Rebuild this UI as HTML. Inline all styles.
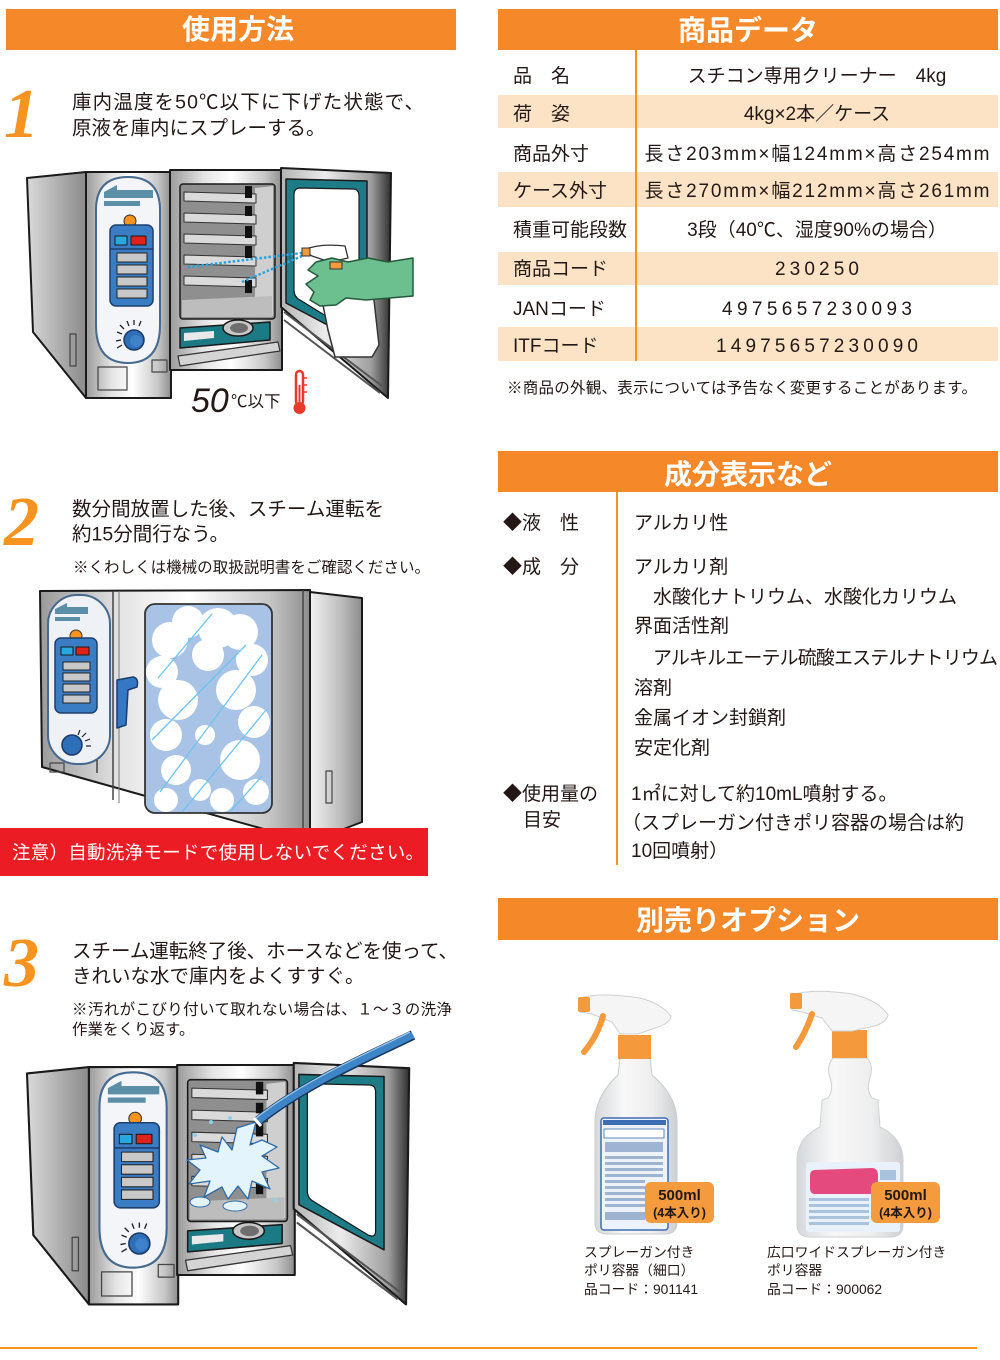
<!DOCTYPE html>
<html><head><meta charset="utf-8">
<style>
html,body{margin:0;padding:0;background:#fff;}
svg{display:block;}
text{font-family:"Liberation Sans","Noto Sans CJK JP",sans-serif;fill:#231815;}
.hd{fill:#fff;font-weight:bold;font-size:28px;}
.num{font-family:"Liberation Serif",serif;font-style:italic;font-weight:bold;font-size:70px;fill:#f7931e;}
</style></head><body>
<svg width="1000" height="1360" viewBox="0 0 1000 1360" xmlns="http://www.w3.org/2000/svg">
<defs>
 <linearGradient id="gSteel" x1="0" x2="1" y1="0" y2="0">
  <stop offset="0" stop-color="#9a9a9a"/><stop offset="0.3" stop-color="#e4e4e4"/><stop offset="0.55" stop-color="#ffffff"/><stop offset="0.85" stop-color="#c6c6c6"/><stop offset="1" stop-color="#8e8e8e"/>
 </linearGradient>
 <linearGradient id="gSide" x1="0" x2="1" y1="0" y2="0"><stop offset="0" stop-color="#dadada"/><stop offset="1" stop-color="#8a8a8a"/></linearGradient>
 <linearGradient id="gSide2" x1="0" x2="1" y1="0" y2="0"><stop offset="0" stop-color="#f2f2f2"/><stop offset="0.6" stop-color="#bdbdbd"/><stop offset="1" stop-color="#8a8a8a"/></linearGradient>
 <linearGradient id="gDoor" x1="0" x2="1" y1="0" y2="0"><stop offset="0" stop-color="#b4b4b4"/><stop offset="0.4" stop-color="#ececec"/><stop offset="0.82" stop-color="#9e9e9e"/><stop offset="1" stop-color="#2e2e2e"/></linearGradient>
 <linearGradient id="gBottle" x1="0" x2="1" y1="0" y2="0"><stop offset="0" stop-color="#d5d8db"/><stop offset="0.35" stop-color="#f8f8f8"/><stop offset="0.7" stop-color="#eeeeee"/><stop offset="1" stop-color="#cdd0d3"/></linearGradient>
 <clipPath id="win2"><rect x="145" y="604" width="127" height="209" rx="10"/></clipPath>
 <g id="ovenA" stroke-linejoin="round">
  <polygon points="27,178 86,172 86,398 33,332" fill="url(#gSide)" stroke="#1a1a1a" stroke-width="2"/>
  <rect x="70" y="334" width="6" height="32" fill="none" stroke="#444" stroke-width="1.2"/>
  <rect x="86" y="172" width="85" height="226" fill="url(#gSteel)" stroke="#1a1a1a" stroke-width="2"/>
  <path d="M96,210 Q96,177 128,177 Q160,177 160,210 L160,325 Q160,363 128,363 Q96,363 96,325 Z" fill="#f3f5f8" stroke="#45698f" stroke-width="2"/>
  <polygon points="104,192 117,185 117,190 153,190 153,198 104,198" fill="#5b8fa8"/>
  <polygon points="104,201 140,201 140,206 104,206" fill="#5b8fa8"/>
  <circle cx="130" cy="221" r="6" fill="#f7941d" stroke="#333" stroke-width="1"/>
  <rect x="110" y="225" width="43" height="81" rx="6" fill="#3b7dc4" stroke="#1d3f6f" stroke-width="1.5"/>
  <rect x="115" y="236" width="12" height="9" fill="#29a8e0" stroke="#1a1a1a" stroke-width="1"/>
  <rect x="131" y="236" width="15" height="9" fill="#e0201b" stroke="#1a1a1a" stroke-width="1"/>
  <line x1="110" y1="249" x2="153" y2="249" stroke="#1d3f6f" stroke-width="1.5"/>
  <rect x="117" y="253" width="30" height="9" fill="#c8c8c8" stroke="#222" stroke-width="1"/>
  <rect x="117" y="265" width="30" height="9" fill="#c8c8c8" stroke="#222" stroke-width="1"/>
  <rect x="117" y="277" width="30" height="9" fill="#c8c8c8" stroke="#222" stroke-width="1"/>
  <rect x="117" y="289" width="30" height="9" fill="#c8c8c8" stroke="#222" stroke-width="1"/>
  <g stroke="#222" stroke-width="1.3">
   <line x1="121" y1="340" x2="116" y2="341"/><line x1="122" y1="334" x2="117" y2="332"/><line x1="124" y1="329" x2="120" y2="325"/><line x1="129" y1="326" x2="127" y2="321"/><line x1="134" y1="325" x2="134" y2="320"/><line x1="139" y1="326" x2="141" y2="321"/><line x1="122" y1="345" x2="117" y2="348"/>
  </g>
  <circle cx="134" cy="340" r="10" fill="#2f6fb8" stroke="#1a3a66" stroke-width="1.5"/>
  <circle cx="136" cy="341" r="6" fill="#3f82cc"/>
  <rect x="98" y="367" width="29" height="23" fill="none" stroke="#444" stroke-width="1.2"/>
  <rect x="152" y="360" width="15" height="12" fill="none" stroke="#444" stroke-width="1.2"/>
  <rect x="170" y="170" width="112" height="200" fill="url(#gSteel)" stroke="#1a1a1a" stroke-width="2"/>
  <rect x="180" y="184" width="95" height="135" rx="3" fill="#8f8f8f" stroke="#1a1a1a" stroke-width="1.5"/>
  <polygon points="255,188 273,186 273,316 255,312" fill="#cfcfcf"/>
  <polygon points="182,300 272,296 272,317 182,317" fill="#bdbdbd"/>
  <g stroke="#333" stroke-width="1">
   <polygon points="184,192 256,194 256,203 184,201" fill="#dadada"/>
   <polygon points="184,213 256,215 256,224 184,222" fill="#dadada"/>
   <polygon points="184,234 256,236 256,245 184,243" fill="#dadada"/>
   <polygon points="184,255 256,257 256,266 184,264" fill="#dadada"/>
   <polygon points="184,276 256,278 256,287 184,285" fill="#dadada"/>
  </g>
  <rect x="245" y="186" width="7" height="12" fill="#111"/>
  <rect x="245" y="206" width="7" height="10" fill="#111"/>
  <rect x="245" y="226" width="7" height="12" fill="#111"/>
  <rect x="245" y="246" width="7" height="12" fill="#111"/>
  <rect x="245" y="280" width="7" height="13" fill="#111"/>
  <polygon points="180,328 270,322 270,340 180,348" fill="#1c7a85" stroke="#1a1a1a" stroke-width="1.5"/>
  <polygon points="184,333 214,331 214,338 184,341" fill="#e9e9e9"/>
  <ellipse cx="238" cy="328" rx="15" ry="8" fill="#c8c8c8" stroke="#1a1a1a" stroke-width="1.5"/>
  <ellipse cx="239" cy="328" rx="9" ry="5" fill="#6e6e6e"/>
  <polygon points="178,356 278,342 280,351 180,366" fill="#d4d4d4" stroke="#333" stroke-width="1.2"/>
  <polygon points="281,168 391,173 388,398 281,307" fill="url(#gDoor)" stroke="#1a1a1a" stroke-width="2"/>
  <polygon points="286,179 367,181 367,346 286,303" fill="#1e7c88" stroke="#1a1a1a" stroke-width="1.5"/>
  <path d="M300,188 L353,189 Q359,189 359,196 L359,328 Q359,335 352,332 L300,300 Q294,297 294,290 L294,195 Q294,188 300,188 Z" fill="#ffffff" stroke="#1a1a1a" stroke-width="1.2"/>
  <line x1="284" y1="312" x2="382" y2="386" stroke="#555" stroke-width="2"/>
  <line x1="284" y1="320" x2="380" y2="393" stroke="#555" stroke-width="2"/>
 </g>
</defs>

<!-- ===== Headers ===== -->
<rect x="6" y="9" width="450" height="41" fill="#f5892a"/>
<text class="hd" x="238" y="39" text-anchor="middle">使用方法</text>
<rect x="498" y="9" width="500" height="41" fill="#f5892a"/>
<text class="hd" x="748" y="40" text-anchor="middle">商品データ</text>
<rect x="498" y="451" width="500" height="41" fill="#f5892a"/>
<text class="hd" x="748" y="484" text-anchor="middle">成分表示など</text>
<rect x="498" y="898" width="500" height="42" fill="#f5892a"/>
<text class="hd" x="748" y="930" text-anchor="middle">別売りオプション</text>

<!-- ===== Step 1 ===== -->
<text class="num" x="4" y="137">1</text>
<text x="72" y="108.4" font-size="19.5" textLength="352" lengthAdjust="spacing">庫内温度を50℃以下に下げた状態で、</text>
<text x="72" y="134.4" font-size="19.5">原液を庫内にスプレーする。</text>

<use href="#ovenA"/>
<!-- spray -->
<line x1="188" y1="267" x2="302" y2="253" stroke="#29a3e0" stroke-width="2.5" stroke-dasharray="2.5 2"/>
<line x1="242" y1="282" x2="302" y2="256" stroke="#29a3e0" stroke-width="2.5" stroke-dasharray="2.5 2"/>
<!-- bottle + hand -->
<polygon points="332,266 352,268 374,300 379,345 372,357 335,357 328,330 322,300" fill="#fff" stroke="#333" stroke-width="1.5" stroke-linejoin="round"/>
<path d="M303,250 Q320,243 345,246 L348,258 L330,262 L312,256 Z" fill="#fff" stroke="#333" stroke-width="1.3"/>
<rect x="302" y="248" width="8" height="8" fill="#f39a3c" stroke="#333" stroke-width="1"/>
<polygon points="413,258 388,262 368,258 348,262 332,258 316,262 308,270 318,276 306,284 314,292 310,300 320,306 336,305 346,298 366,300 413,296" fill="#6cbf8f" stroke="#245a3c" stroke-width="1.5" stroke-linejoin="round"/>
<rect x="330" y="262" width="12" height="7" fill="#f39a3c" stroke="#333" stroke-width="1"/>
<!-- 50C -->
<text x="191" y="412" font-size="34" font-style="italic" fill="#333" style="font-family:'Liberation Sans',sans-serif">50</text>
<text x="231" y="407" font-size="16.5">℃以下</text>
<rect x="296" y="371" width="7" height="34" rx="3.5" fill="#fff" stroke="#e83a2b" stroke-width="2.5"/>
<rect x="298.5" y="385" width="2" height="20" fill="#e83a2b"/>
<circle cx="299.5" cy="408" r="6" fill="#e83a2b"/>
<g stroke="#e83a2b" stroke-width="1.5"><line x1="303" y1="378" x2="307" y2="378"/><line x1="303" y1="385" x2="307" y2="385"/><line x1="303" y1="392" x2="307" y2="392"/></g>

<!-- ===== Step 2 ===== -->
<text class="num" x="4" y="545">2</text>
<text x="72" y="515.4" font-size="19.5" textLength="312" lengthAdjust="spacing">数分間放置した後、スチーム運転を</text>
<text x="72" y="540.4" font-size="19.5">約15分間行なう。</text>
<text x="73" y="572.7" font-size="15.5" textLength="357" lengthAdjust="spacing">※くわしくは機械の取扱説明書をご確認ください。</text>

<g stroke-linejoin="round">
 <polygon points="310,592 362,598 362,822 310,842" fill="url(#gSide2)" stroke="#1a1a1a" stroke-width="2"/>
 <rect x="326" y="771" width="6" height="32" fill="none" stroke="#444" stroke-width="1.2"/>
 <polygon points="40,591 310,590 310,842 42,767" fill="url(#gSteel)" stroke="#1a1a1a" stroke-width="2"/>
 <line x1="113" y1="591" x2="113" y2="800" stroke="#444" stroke-width="1.5"/>
 <line x1="119" y1="591" x2="119" y2="803" stroke="#777" stroke-width="1"/>
 <line x1="303" y1="590" x2="303" y2="840" stroke="#444" stroke-width="1.5"/>
 <rect x="48" y="595" width="62" height="169" rx="29" fill="#eef2f6" stroke="#45698f" stroke-width="2"/>
 <polygon points="55,609 67,603 67,607 88,607 88,614 55,614" fill="#5b8fa8"/>
 <polygon points="55,617 80,617 80,621 55,621" fill="#5b8fa8"/>
 <circle cx="76" cy="636" r="6" fill="#f7941d" stroke="#333" stroke-width="1"/>
 <rect x="55" y="638" width="42" height="75" rx="6" fill="#3b7dc4" stroke="#1d3f6f" stroke-width="1.5"/>
 <rect x="61" y="647" width="12" height="8" fill="#29a8e0" stroke="#1a1a1a" stroke-width="1"/>
 <rect x="76" y="647" width="13" height="8" fill="#e0201b" stroke="#1a1a1a" stroke-width="1"/>
 <rect x="63" y="662" width="27" height="8" fill="#c8c8c8" stroke="#222" stroke-width="1"/>
 <rect x="63" y="673" width="27" height="8" fill="#c8c8c8" stroke="#222" stroke-width="1"/>
 <rect x="63" y="684" width="27" height="8" fill="#c8c8c8" stroke="#222" stroke-width="1"/>
 <rect x="63" y="695" width="27" height="8" fill="#c8c8c8" stroke="#222" stroke-width="1"/>
 <g stroke="#222" stroke-width="1.2"><line x1="78" y1="735" x2="80" y2="730"/><line x1="82" y1="737" x2="86" y2="733"/><line x1="85" y1="741" x2="90" y2="739"/><line x1="86" y1="746" x2="91" y2="746"/></g>
 <circle cx="72" cy="745" r="10" fill="#2f6fb8" stroke="#1a3a66" stroke-width="1.5"/>
 <rect x="50" y="763" width="14" height="9" fill="none" stroke="#444" stroke-width="1.2"/>
 <line x1="97" y1="760" x2="97" y2="773" stroke="#444" stroke-width="1.5"/>
 <rect x="145" y="604" width="127" height="209" rx="10" fill="#a9c3e6" stroke="#333" stroke-width="1.8"/>
 <g clip-path="url(#win2)" fill="#fff">
  <circle cx="170" cy="640" r="18"/><circle cx="188" cy="622" r="16"/><circle cx="162" cy="672" r="16"/><circle cx="178" cy="700" r="20"/><circle cx="166" cy="735" r="16"/><circle cx="176" cy="770" r="15"/><circle cx="166" cy="800" r="12"/>
  <circle cx="208" cy="655" r="16"/><circle cx="218" cy="628" r="20"/><circle cx="240" cy="632" r="18"/><circle cx="252" cy="660" r="16"/><circle cx="236" cy="690" r="20"/><circle cx="254" cy="722" r="16"/><circle cx="240" cy="760" r="20"/><circle cx="256" cy="792" r="13"/><circle cx="222" cy="800" r="12"/><circle cx="200" cy="790" r="11"/><circle cx="205" cy="735" r="10"/>
 </g>
 <g clip-path="url(#win2)" stroke="#6ec4ef" stroke-width="1.3">
  <line x1="158" y1="678" x2="212" y2="614"/><line x1="152" y1="740" x2="246" y2="645"/><line x1="160" y1="792" x2="262" y2="655"/><line x1="182" y1="812" x2="266" y2="710"/><line x1="230" y1="812" x2="262" y2="776"/>
 </g>
 <path d="M117,680 L133,677 Q139,678 137,687 L128,690 L126,725 L117,728 Z" fill="#3477c4" stroke="#1b3d6b" stroke-width="1.5"/>
</g>
<rect x="0" y="828" width="428" height="48" fill="#ec1c24"/>
<text x="12" y="859" font-size="18.5" fill="#fff" style="fill:#fff" textLength="412" lengthAdjust="spacing">注意）自動洗浄モードで使用しないでください。</text>

<!-- ===== Step 3 ===== -->
<text class="num" x="4" y="986">3</text>
<text x="72" y="957.4" font-size="19.5" textLength="386" lengthAdjust="spacing">スチーム運転終了後、ホースなどを使って、</text>
<text x="72" y="982.4" font-size="19.5">きれいな水で庫内をよくすすぐ。</text>
<text x="72" y="1014.5" font-size="15.5" textLength="380" lengthAdjust="spacing">※汚れがこびり付いて取れない場合は、１～３の洗浄</text>
<text x="72" y="1034.5" font-size="15.5">作業をくり返す。</text>

<use href="#ovenA" transform="translate(27,1065) scale(1.05) translate(-27,-170)"/>
<path d="M237,1128 L256,1122 L250,1145 L262,1140 L277,1147 L262,1156 L279,1168 L262,1172 L270,1189 L252,1181 L248,1199 L238,1186 L228,1199 L222,1187 L204,1197 L210,1181 L189,1184 L200,1170 L187,1160 L206,1158 L200,1145 L218,1152 L222,1137 L232,1150 Z" fill="#e4f4fc" stroke="#2d6aa8" stroke-width="1.3" stroke-linejoin="round"/>
<ellipse cx="200" cy="1202" rx="10" ry="5" fill="#e4f4fc" stroke="#2d6aa8" stroke-width="1"/>
<ellipse cx="235" cy="1206" rx="12" ry="5" fill="#e4f4fc" stroke="#2d6aa8" stroke-width="1"/>
<circle cx="211" cy="1122" r="2" fill="#8fd0f0"/><circle cx="230" cy="1118" r="2" fill="#8fd0f0"/><circle cx="275" cy="1200" r="2" fill="#8fd0f0"/><circle cx="195" cy="1135" r="2" fill="#8fd0f0"/>
<path d="M413,1035 C372,1055 302,1085 257,1122" fill="none" stroke="#17365e" stroke-width="10"/>
<path d="M413,1035 C372,1055 302,1085 257,1122" fill="none" stroke="#3d85c6" stroke-width="7"/>
<path d="M410,1032 C370,1052 302,1081 256,1118" fill="none" stroke="#9cc9ee" stroke-width="1.3"/>
<line x1="254" y1="1118" x2="261" y2="1126" stroke="#fff" stroke-width="3"/>

<!-- ===== Product data table ===== -->
<rect x="498" y="95" width="500" height="33" fill="#fde3c6"/>
<rect x="498" y="172" width="500" height="35" fill="#fde3c6"/>
<rect x="498" y="252" width="500" height="33" fill="#fde3c6"/>
<rect x="498" y="327" width="500" height="34" fill="#fde3c6"/>
<rect x="635" y="50" width="2" height="311" fill="#f7941d"/>
<g font-size="19">
 <text x="513" y="82">品　名</text>
 <text x="513" y="120">荷　姿</text>
 <text x="513" y="160">商品外寸</text>
 <text x="513" y="197">ケース外寸</text>
 <text x="513" y="236">積重可能段数</text>
 <text x="513" y="275">商品コード</text>
 <text x="513" y="315">JANコード</text>
 <text x="513" y="352">ITFコード</text>
 <text x="817" y="82" text-anchor="middle">スチコン専用クリーナー　4kg</text>
 <text x="817" y="120" text-anchor="middle">4kg×2本／ケース</text>
 <text x="817" y="160" text-anchor="middle" textLength="345" lengthAdjust="spacing">長さ203mm×幅124mm×高さ254mm</text>
 <text x="817" y="197" text-anchor="middle" textLength="345" lengthAdjust="spacing">長さ270mm×幅212mm×高さ261mm</text>
 <text x="817" y="236" text-anchor="middle">3段（40℃、湿度90%の場合）</text>
 <text x="817" y="275" text-anchor="middle" textLength="84" lengthAdjust="spacing">230250</text>
 <text x="817" y="315" text-anchor="middle" textLength="190" lengthAdjust="spacing">4975657230093</text>
 <text x="817" y="352" text-anchor="middle" textLength="202" lengthAdjust="spacing">14975657230090</text>
</g>
<text x="507" y="393" font-size="15.5" textLength="470" lengthAdjust="spacing">※商品の外観、表示については予告なく変更することがあります。</text>

<!-- ===== Ingredients ===== -->
<rect x="616" y="492" width="2" height="373" fill="#f7941d"/>
<g font-size="19">
 <text x="503" y="529">◆液　性</text>
 <text x="503" y="573">◆成　分</text>
 <text x="503" y="800">◆使用量の</text>
 <text x="523" y="826">目安</text>
 <text x="634" y="529">アルカリ性</text>
 <text x="634" y="573">アルカリ剤</text>
 <text x="653" y="603">水酸化ナトリウム、水酸化カリウム</text>
 <text x="634" y="632">界面活性剤</text>
 <text x="653" y="664" textLength="345" lengthAdjust="spacing">アルキルエーテル硫酸エステルナトリウム</text>
 <text x="634" y="694">溶剤</text>
 <text x="634" y="724">金属イオン封鎖剤</text>
 <text x="634" y="754">安定化剤</text>
 <text x="631" y="800">1㎡に対して約10mL噴射する。</text>
 <text x="622" y="829">（スプレーガン付きポリ容器の場合は約</text>
 <text x="631" y="857">10回噴射）</text>
</g>

<!-- ===== Options: bottle 1 ===== -->
<path d="M620,1058 L650,1058 L652,1075 Q676,1095 677,1120 L677,1222 Q677,1234 665,1234 L607,1234 Q595,1234 595,1222 L595,1120 Q596,1095 618,1075 Z" fill="url(#gBottle)" stroke="#c9cbcd" stroke-width="1"/>
<rect x="601" y="1118" width="67" height="112" rx="3" fill="#eef2fa" stroke="#3b6db3" stroke-width="1.5"/>
<rect x="603" y="1120" width="63" height="5" fill="#3b6db3"/>
<rect x="604" y="1129" width="60" height="9" fill="#fff" stroke="#3b6db3" stroke-width="0.8"/>
<g fill="#9fb3d3">
 <rect x="605" y="1142" width="58" height="10"/><rect x="605" y="1156" width="58" height="3"/><rect x="605" y="1162" width="58" height="3"/><rect x="605" y="1168" width="58" height="3"/><rect x="605" y="1174" width="58" height="3"/><rect x="605" y="1180" width="40" height="3"/><rect x="605" y="1186" width="40" height="3"/><rect x="605" y="1192" width="40" height="3"/><rect x="605" y="1198" width="40" height="3"/><rect x="605" y="1204" width="40" height="3"/><rect x="605" y="1212" width="40" height="8"/>
</g>
<rect x="618" y="1035" width="33" height="24" fill="#f49a3c"/>
<path d="M580,998 Q600,992 640,998 Q662,1004 671,1016 Q670,1024 655,1028 L638,1034 L620,1034 L612,1022 L592,1014 L580,1012 Z" fill="#f5f5f5" stroke="#d0d0d0"/>
<rect x="578" y="997" width="12" height="15" rx="2" fill="#f39a3c"/>
<path d="M603,1016 Q598,1035 584,1052" stroke="#f39a3c" stroke-width="6" fill="none" stroke-linecap="round"/>
<rect x="645" y="1182" width="69" height="41" rx="6" fill="#f39b3d"/>
<text x="679.5" y="1200" text-anchor="middle" font-size="15" font-weight="bold" fill="#3a2a1a">500ml</text>
<text x="679.5" y="1217" text-anchor="middle" font-size="12.5" font-weight="bold" fill="#3a2a1a">(4本入り)</text>

<!-- bottle 2 -->
<path d="M833,1058 L867,1058 Q874,1066 870,1078 Q866,1090 872,1098 L878,1100 L880,1127 Q903,1138 903,1160 L903,1225 Q903,1237 890,1237 L810,1237 Q797,1237 797,1225 L797,1160 Q797,1138 820,1127 L822,1100 L828,1098 Q834,1090 830,1078 Q826,1066 833,1058 Z" fill="url(#gBottle)" stroke="#d0d2d4" stroke-width="1"/>
<rect x="806" y="1162" width="94" height="70" rx="3" fill="#e9f1fa"/>
<path d="M815,1170 L872,1168 Q878,1168 878,1176 L878,1186 Q878,1194 870,1194 L815,1194 Q810,1194 810,1188 L810,1176 Q810,1170 815,1170 Z" fill="#e44a7e"/>
<g fill="#a9c2de">
 <rect x="809" y="1198" width="60" height="3"/><rect x="809" y="1204" width="60" height="3"/><rect x="809" y="1210" width="60" height="3"/><rect x="809" y="1216" width="60" height="3"/><rect x="809" y="1222" width="60" height="3"/><rect x="880" y="1170" width="16" height="10"/>
</g>
<rect x="832" y="1030" width="35" height="28" fill="#f49a3c"/>
<path d="M792,995 Q812,988 852,994 Q878,1000 888,1015 Q886,1024 870,1027 L852,1031 L832,1031 L822,1018 L802,1012 L792,1010 Z" fill="#f5f5f5" stroke="#d0d0d0"/>
<rect x="790" y="993" width="12" height="16" rx="2" fill="#f39a3c"/>
<path d="M812,1014 Q806,1032 796,1047" stroke="#f39a3c" stroke-width="6" fill="none" stroke-linecap="round"/>
<rect x="871" y="1182" width="69" height="41" rx="6" fill="#f39b3d"/>
<text x="905.5" y="1200" text-anchor="middle" font-size="15" font-weight="bold" fill="#3a2a1a">500ml</text>
<text x="905.5" y="1217" text-anchor="middle" font-size="12.5" font-weight="bold" fill="#3a2a1a">(4本入り)</text>

<g font-size="13.8">
 <text x="584" y="1257">スプレーガン付き</text>
 <text x="584" y="1275">ポリ容器（細口）</text>
 <text x="584" y="1294">品コード：901141</text>
 <text x="767" y="1257">広口ワイドスプレーガン付き</text>
 <text x="767" y="1275">ポリ容器</text>
 <text x="767" y="1294">品コード：900062</text>
</g>

<!-- bottom line -->
<rect x="0" y="1347" width="977" height="2" fill="#f7941d"/>
</svg>
</body></html>
